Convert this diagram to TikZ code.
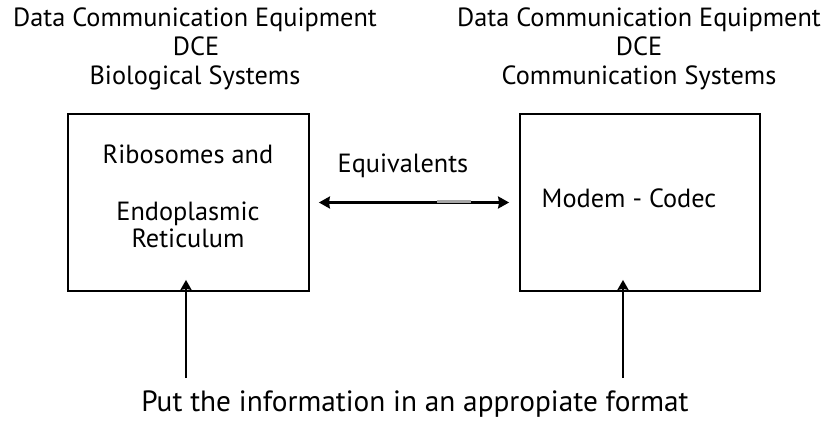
\documentclass[tikz,border=0pt]{standalone}
\usepackage{fontspec}
\setmainfont{PT Sans}
\usetikzlibrary{arrows.meta}
\begin{document}
\begin{tikzpicture}[x=1pt,y=-1pt,
  lbl/.style={anchor=base,inner sep=0pt,font=\fontsize{26.3}{30}\selectfont},
  big/.style={anchor=base,inner sep=0pt,font=\fontsize{29.3}{34}\selectfont},
  unit/.style={draw,line width=1.8pt,minimum width=241pt,minimum height=177pt,inner sep=0pt},
  link/.style={line width=2.4pt,{Stealth[length=11pt,width=12pt,inset=1pt]}-{Stealth[length=11pt,width=12pt,inset=1pt]}},
  feed/.style={line width=2pt,-{Stealth[length=10pt,width=11pt,inset=1pt]}}]
\useasboundingbox (0,0) rectangle (828,423);
% headings
\node[lbl] (hL1) at (195,27) {Data Communication Equipment};
\node[lbl] (hL2) at (196,56) {DCE};
\node[lbl] (hL3) at (195,84) {Biological Systems};
\node[lbl] (hR1) at (639,27) {Data Communication Equipment};
\node[lbl] (hR2) at (639,56) {DCE};
\node[lbl] (hR3) at (639,84) {Communication Systems};
% the two equipment boxes
\node[unit] (L) at (188.5,202.5) {};
\node[unit,minimum width=240pt] (R) at (640,202.5) {};
\node[lbl] (tL1) at (188,163) {Ribosomes and};
\node[lbl] (tL2) at (188,220) {Endoplasmic};
\node[lbl] (tL3) at (188,247) {Reticulum};
\node[lbl] (tR) at (629,207) {Modem - Codec};
% equivalence link
\node[lbl] (eq) at (403,172) {Equivalents};
\draw[link] ([xshift=9pt]L.east) -- ([xshift=-10pt]R.west);
\coordinate (g1) at (437,201.6);
\coordinate (g2) at (471,201.6);
\draw[gray!70,line width=2.4pt] (g1) -- (g2);
% input arrows
\node[big] (put) at (415,411) {Put the information in an appropiate format};
\coordinate (aL) at (186,378);
\coordinate (aR) at (623,378);
\draw[feed] (aL) -- ([yshift=12pt]aL |- L.south);
\draw[feed] (aR) -- ([yshift=12pt]aR |- R.south);
\end{tikzpicture}
\end{document}
